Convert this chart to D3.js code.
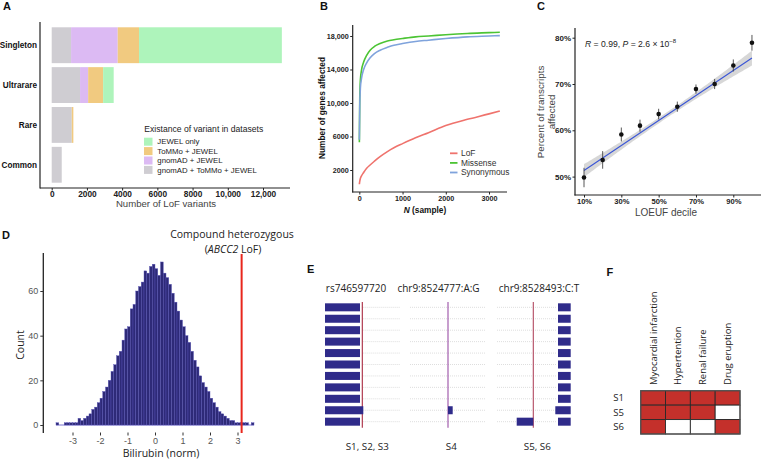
<!DOCTYPE html>
<html><head><meta charset="utf-8">
<script src="https://cdn.jsdelivr.net/npm/d3@7"></script>
<style>body{margin:0;background:#fff}svg{display:block}</style>
</head><body>
<svg id="c" width="761" height="459"></svg>
<script>
// ---------- Panel A data ----------
const aCategories = ["Singleton","Ultrarare","Rare","Common"];
const aShared3 = [1100,1610,1140,570];     // gnomAD + ToMMo + JEWEL
const aGnomad = [2650,460,0,0];            // gnomAD + JEWEL
const aTommo = [1210,850,90,0];            // ToMMo + JEWEL
const aJewelOnly = [8110,600,0,0];         // JEWEL only
const aTicks = [0,2000,4000,6000,8000,10000,12000];
const aLegend = ["JEWEL only","ToMMo + JEWEL","gnomAD + JEWEL","gnomAD + ToMMo + JEWEL"];

// ---------- Panel B data ----------
const bN = [1,10,25,50,100,170,250,350,480,650,800,1000,1300,1600,2000,2500,3000,3250];
const bLoF = [300,650,1000,1300,1700,2200,2600,3050,3600,4200,4650,5150,5850,6450,7300,8050,8700,9050];
const bMissense = [5300,10500,12800,13900,14900,15700,16300,16750,17100,17400,17550,17700,17900,18000,18150,18300,18400,18450];
const bSynonymous = [5600,9500,11800,12900,14000,14800,15400,15900,16300,16650,16900,17100,17350,17500,17700,17900,18000,18050];
const bYTicks = [2000,6000,10000,14000,18000];
const bXTicks = [0,1000,2000,3000];

// ---------- Panel C data ----------
const cDecile = [0.1,0.2,0.3,0.4,0.5,0.6,0.7,0.8,0.9,1.0];
const cPercent = [49.8,53.6,59.1,61.0,63.5,65.1,68.9,70.0,74.0,78.9];
const cErr = [2.1,1.9,1.5,1.3,1.15,1.1,1.0,1.1,1.3,1.7];
const cFitEnds = [51.3,75.6];          // fitted % at 10% and 100% decile
const cBandEnds = [1.4,0.6,1.6];       // CI half-width: left end, centre, right end
const cXTicks = [0.1,0.3,0.5,0.7,0.9];
const cYTicks = [50,60,70,80];

// ---------- Panel D data ----------
const dBinStart = -3.6, dBinWidth = 0.1;
const dCounts = [1,0,0,1,1,1,1,1,3,2,3,4,5,7,8,10,12,15,17,20,24,27,31,33,38,43,44,52,54,60,62,64,69,68,71,72,
                 70,67,73,68,66,63,59,55,51,47,44,40,37,33,29,26,22,19,17,15,12,10,8,6,5,4,3,2,2,1,1,1,1,1,0,1];
const dCase = 3.15;
const dXTicks = [-3,-2,-1,0,1,2,3];
const dYTicks = [0,20,40,60];

// ---------- Panel E data (read offsets relative to variant) ----------
const eTitles = ["rs746597720","chr9:8524777:A:G","chr9:8528493:C:T"];
const eSamples = ["S1, S2, S3","S4","S5, S6"];
const eRows = d3.range(11);
const eCol1 = eRows.map(r => r===9 ? [[-37.3,1]] : [[-37.3,-2.3]]);
const eCol2 = eRows.map(r => r===9 ? [[0,4.7]] : []);
const eCol3 = eRows.map(r => r===9 ? [[22,37.4]] : (r===10 ? [[-16.6,0],[24.7,37.4]] : [[24.7,37.4]]));

// ---------- Panel F data ----------
const fDiseases = ["Myocardial infarction","Hypertention","Renal failure","Drug eruption"];
const fSamples = ["S1","S5","S6"];
const fMatrix = [[1,1,1,1],[1,1,1,0],[1,0,0,1]];

const svg = d3.select("#c");
svg.append("rect").attr("width",761).attr("height",459).attr("fill","#fff");
const SANS = "'Liberation Sans', Arial, Helvetica, sans-serif";
const CAL = "'Open Sans', 'Noto Sans', sans-serif";

function panelLabel(t,x,y){
  svg.append("text").attr("x",x).attr("y",y).text(t)
    .attr("font-family",SANS).attr("font-weight","bold").attr("font-size",11).attr("fill","#111");
}
function line(x1,y1,x2,y2,c,w){
  return svg.append("line").attr("x1",x1).attr("y1",y1).attr("x2",x2).attr("y2",y2)
    .attr("stroke",c||"#222").attr("stroke-width",w||1);
}

// ================= Panel A =================
panelLabel("A",3,9.5);
{
  const x = d3.scaleLinear().domain([0,12000]).range([51.7,263]);
  const y = d3.scaleBand().domain(aCategories).range([25.3,184.7]).paddingInner(0.1).paddingOuter(0.05);
  const colors = ["#cfcdd2","#dcbaf3","#f1ca80","#aef4bb"];
  const series = [aShared3,aGnomad,aTommo,aJewelOnly];
  const g = svg.append("g");
  aCategories.forEach((cat,i)=>{
    let acc = 0;
    series.forEach((s,k)=>{
      const v = s[i];
      if(v>0){
        g.append("rect").attr("x",x(acc)).attr("y",y(cat)).attr("width",x(acc+v)-x(acc))
          .attr("height",y.bandwidth()).attr("fill",colors[k]);
      }
      acc += v;
    });
    g.append("text").attr("x",37).attr("y",y(cat)+y.bandwidth()/2).attr("dy","0.35em")
      .attr("text-anchor","end").attr("font-family",SANS).attr("font-weight","bold")
      .attr("font-size",8.2).attr("fill","#111").text(cat);
  });
  line(40,22,40,188.5,"#222",1.2);
  line(40,188,290,188,"#222",1.2);
  const ax = svg.append("g").attr("transform","translate(0,188)")
    .call(d3.axisBottom(x).tickValues(aTicks).tickSize(2.5).tickFormat(d=> d>=10000 ? d3.format(",")(d) : d));
  ax.select(".domain").remove();
  ax.selectAll("line").attr("stroke","#222");
  ax.selectAll("text").attr("font-family",SANS).attr("font-weight","bold").attr("font-size",8.3).attr("fill","#222").attr("dy","0.75em").attr("y",3);
  svg.append("text").attr("x",166).attr("y",207).attr("text-anchor","middle")
    .attr("font-family",SANS).attr("font-size",9.6).attr("fill","#444").text("Number of LoF variants");
  // legend
  svg.append("text").attr("x",144.3).attr("y",132).attr("font-family",SANS).attr("font-size",8.6)
    .attr("fill","#222").text("Existance of variant in datasets");
  const legCols = ["#aef4bb","#f1ca80","#dcbaf3","#cfcdd2"];
  aLegend.forEach((t,i)=>{
    const cy = 141.7 + i*9.4;
    svg.append("rect").attr("x",144).attr("y",cy-4).attr("width",8.5).attr("height",8).attr("fill",legCols[i]);
    svg.append("text").attr("x",157.3).attr("y",cy).attr("dy","0.35em").attr("font-family",SANS)
      .attr("font-size",7.8).attr("fill","#222").text(t);
  });
}

// ================= Panel B =================
panelLabel("B",320,9.5);
{
  const x = d3.scaleLinear().domain([-153,3416]).range([352.7,507]);
  const y = d3.scaleLinear().domain([-627,19313]).range([192,25]);
  const cols = {LoF:"#ef736d",Missense:"#4cc434",Synonymous:"#7fa3dc"};
  const ln = d3.line().x((d,i)=>x(bN[i])).y(d=>y(d)).curve(d3.curveMonotoneX);
  [["Missense",bMissense],["Synonymous",bSynonymous],["LoF",bLoF]].forEach(([k,arr])=>{
    svg.append("path").attr("d",ln(arr)).attr("fill","none").attr("stroke",cols[k]).attr("stroke-width",1.6);
  });
  line(352.7,25,352.7,192.5,"#222",1.2);
  line(352.2,192,507,192,"#222",1.2);
  const ay = svg.append("g").attr("transform","translate(352.7,0)")
    .call(d3.axisLeft(y).tickValues(bYTicks).tickSize(2.5).tickFormat(d=> d>=10000? d3.format(",")(d): d));
  ay.select(".domain").remove();
  ay.selectAll("line").attr("stroke","#222");
  ay.selectAll("text").attr("font-family",SANS).attr("font-weight","bold").attr("font-size",7.2).attr("fill","#222").attr("x",-4);
  const ax = svg.append("g").attr("transform","translate(0,192)")
    .call(d3.axisBottom(x).tickValues(bXTicks).tickSize(2.5).tickFormat(d=>String(d)));
  ax.select(".domain").remove();
  ax.selectAll("line").attr("stroke","#222");
  ax.selectAll("text").attr("font-family",SANS).attr("font-weight","bold").attr("font-size",7.2).attr("fill","#222").attr("y",4);
  const t = svg.append("text").attr("x",425).attr("y",213).attr("text-anchor","middle")
    .attr("font-family",SANS).attr("font-weight","bold").attr("font-size",8.3).attr("fill","#111");
  t.append("tspan").attr("font-style","italic").text("N");
  t.append("tspan").text(" (sample)");
  svg.append("text").attr("transform","translate(324.5,108) rotate(-90)").attr("text-anchor","middle")
    .attr("font-family",SANS).attr("font-weight","bold").attr("font-size",8.3).attr("fill","#111")
    .text("Number of genes affected");
  ["LoF","Missense","Synonymous"].forEach((k,i)=>{
    const cy = 153.3 + i*9.6;
    line(450,cy,457.5,cy,cols[k],1.8);
    svg.append("text").attr("x",461).attr("y",cy).attr("dy","0.35em").attr("font-family",SANS)
      .attr("font-size",8.4).attr("fill","#333").text(k);
  });
}

// ================= Panel C =================
panelLabel("C",537,9.5);
{
  const x = d3.scaleLinear().domain([0.1,0.9]).range([584,733.3]);
  const y = d3.scaleLinear().domain([50,80]).range([176.6,37.7]);
  const fit = d3.scaleLinear().domain([0.1,1.0]).range(cFitEnds);
  const halfL = d3.scaleLinear().domain([0.1,0.55]).range([cBandEnds[0],cBandEnds[1]]);
  const halfR = d3.scaleLinear().domain([0.55,1.0]).range([cBandEnds[1],cBandEnds[2]]);
  const half = xx => {
    // smooth curved band (hyperbola-like through the three widths)
    const h = xx<0.55 ? halfL(xx) : halfR(xx);
    const m = cBandEnds[1];
    return Math.sqrt(m*m + Math.max(0,h*h-m*m)*Math.abs(xx-0.55)/0.45);
  };
  const xs = d3.range(0.1,1.0001,0.01);
  svg.append("path").attr("d",d3.area().x(d=>x(d)).y0(d=>y(fit(d)-half(d))).y1(d=>y(fit(d)+half(d)))(xs))
    .attr("fill","#bdbdbd").attr("opacity",0.6);
  svg.append("path").attr("d",d3.line().x(d=>x(d)).y(d=>y(fit(d)))(xs))
    .attr("fill","none").attr("stroke","#3a55d6").attr("stroke-width",1.1);
  cDecile.forEach((d,i)=>{
    line(x(d),y(cPercent[i]-cErr[i]),x(d),y(cPercent[i]+cErr[i]),"#444",0.9);
    svg.append("circle").attr("cx",x(d)).attr("cy",y(cPercent[i])).attr("r",2.3).attr("fill","#111");
  });
  line(575,28,575,195.5,"#222",1.2);
  line(574.5,195,761,195,"#222",1.2);
  const ay = svg.append("g").attr("transform","translate(575,0)")
    .call(d3.axisLeft(y).tickValues(cYTicks).tickSize(2.5).tickFormat(d=>d+"%"));
  ay.select(".domain").remove();
  ay.selectAll("line").attr("stroke","#222");
  ay.selectAll("text").attr("font-family",SANS).attr("font-weight","bold").attr("font-size",8).attr("fill","#222").attr("x",-4);
  const ax = svg.append("g").attr("transform","translate(0,195)")
    .call(d3.axisBottom(x).tickValues(cXTicks).tickSize(2.5).tickFormat(d=>Math.round(d*100)+"%"));
  ax.select(".domain").remove();
  ax.selectAll("line").attr("stroke","#222");
  ax.selectAll("text").attr("font-family",SANS).attr("font-weight","bold").attr("font-size",7.6).attr("fill","#222").attr("y",4);
  svg.append("text").attr("x",666).attr("y",215.5).attr("text-anchor","middle")
    .attr("font-family",SANS).attr("font-size",10).attr("fill","#444").text("LOEUF decile");
  const yt = svg.append("text").attr("transform","translate(544,112) rotate(-90)").attr("text-anchor","middle")
    .attr("font-family",SANS).attr("font-size",9.8).attr("fill","#444");
  yt.append("tspan").attr("x",0).attr("dy",0).text("Percent of transcripts");
  yt.append("tspan").attr("x",0).attr("dy",11).text("affected");
  const r = svg.append("text").attr("x",585).attr("y",46.5).attr("font-family",SANS).attr("font-size",8.6).attr("fill","#222");
  r.append("tspan").attr("font-style","italic").text("R");
  r.append("tspan").text(" = 0.99, ");
  r.append("tspan").attr("font-style","italic").text("P");
  r.append("tspan").text(" = 2.6 × 10");
  r.append("tspan").attr("dy",-3.5).attr("font-size",6).text("−8");
}

// ================= Panel D =================
panelLabel("D",2,239);
{
  const x = d3.scaleLinear().domain([0,1]).range([155,182.5]);
  const y = d3.scaleLinear().domain([0,60]).range([425,291]);
  const bins = dCounts.map((c,i)=>({x0:dBinStart+i*dBinWidth,x1:dBinStart+(i+1)*dBinWidth,c}));
  line(x(dBinStart),425,x(dBinStart+dCounts.length*dBinWidth),425,"#7a74d0",1);
  svg.append("g").selectAll("rect").data(bins.filter(b=>b.c>0)).join("rect")
    .attr("x",b=>x(b.x0)).attr("width",b=>x(b.x1)-x(b.x0)).attr("y",b=>y(b.c)).attr("height",b=>y(0)-y(b.c))
    .attr("fill","#2e2a78").attr("stroke","#5b55b8").attr("stroke-width",0.4);
  line(x(dCase),254,x(dCase),433,"#e8261c",2);
  line(43.3,253,43.3,433,"#222",1.3);
  const ay = svg.append("g").attr("transform","translate(43.3,0)")
    .call(d3.axisLeft(y).tickValues(dYTicks).tickSize(3));
  ay.select(".domain").remove();
  ay.selectAll("line").attr("stroke","#333");
  ay.selectAll("text").attr("font-family",SANS).attr("font-size",9).attr("fill","#555").attr("x",-5);
  const ax = svg.append("g").attr("transform","translate(0,432.5)")
    .call(d3.axisBottom(x).tickValues(dXTicks).tickSize(3).tickFormat(d=>d<0?"-"+(-d):d));
  ax.select(".domain").remove();
  ax.selectAll("line").attr("stroke","#333");
  ax.selectAll("text").attr("font-family",SANS).attr("font-size",9).attr("fill","#555").attr("y",5);
  svg.append("text").attr("x",161).attr("y",457).attr("text-anchor","middle")
    .attr("font-family",CAL).attr("font-size",10.5).attr("fill","#222").text("Bilirubin (norm)");
  svg.append("text").attr("transform","translate(24,345) rotate(-90)").attr("text-anchor","middle")
    .attr("font-family",CAL).attr("font-size",10.5).attr("fill","#222").text("Count");
  svg.append("text").attr("x",232).attr("y",238).attr("text-anchor","middle")
    .attr("font-family",CAL).attr("font-size",10.5).attr("fill","#222").text("Compound heterozygous");
  const t2 = svg.append("text").attr("x",233).attr("y",253).attr("text-anchor","middle")
    .attr("font-family",CAL).attr("font-size",10.5).attr("fill","#222");
  t2.append("tspan").text("(");
  t2.append("tspan").attr("font-style","italic").text("ABCC2");
  t2.append("tspan").text(" LoF)");
}

// ================= Panel E =================
panelLabel("E",307,272.5);
{
  const y = d3.scaleBand().domain(eRows).range([301.6,427.4]).paddingInner(0.3).paddingOuter(0.15);
  const u = d3.scaleLinear().domain([0,1]).range([0,1]); // 1 unit offset = 1px
  const cols = [
    {c:362.3, data:eCol1, dot:[362.7,400], lc:"#a8283f", title:356},
    {c:448, data:eCol2, dot:[410,486], lc:"#9a4fa6", title:438.5},
    {c:533.3, data:eCol3, dot:[497,556], lc:"#b2475f", title:539}
  ];
  cols.forEach((col,ci)=>{
    eRows.forEach(r=>{
      const cy = y(r)+y.bandwidth()/2;
      svg.append("line").attr("x1",col.dot[0]).attr("x2",col.dot[1]).attr("y1",cy).attr("y2",cy)
        .attr("stroke","#c8c8c8").attr("stroke-width",0.6).attr("stroke-dasharray","1,1");
    });
    line(col.c,302,col.c,427.7,col.lc,1.1);
    eRows.forEach(r=>{
      col.data[r].forEach(seg=>{
        svg.append("rect").attr("x",col.c+u(seg[0])).attr("width",u(seg[1])-u(seg[0]))
          .attr("y",y(r)).attr("height",y.bandwidth()).attr("fill","#2f2b8a");
      });
    });
    svg.append("text").attr("x",col.title).attr("y",291.5).attr("text-anchor","middle")
      .attr("font-family",CAL).attr("font-size",10).attr("fill","#222").text(eTitles[ci]);
  });
  [[367.3,eSamples[0]],[451.3,eSamples[1]],[537.3,eSamples[2]]].forEach(([xx,t])=>{
    svg.append("text").attr("x",xx).attr("y",449.5).attr("text-anchor","middle")
      .attr("font-family",CAL).attr("font-size",9.8).attr("fill","#222").text(t);
  });
}

// ================= Panel F =================
panelLabel("F",606.5,276);
{
  const x = d3.scaleBand().domain(fDiseases).range([640.7,740]);
  const y = d3.scaleBand().domain(fSamples).range([390.7,434]);
  fSamples.forEach((s,i)=>{
    fDiseases.forEach((d,j)=>{
      svg.append("rect").attr("x",x(d)).attr("y",y(s)).attr("width",x.bandwidth()).attr("height",y.bandwidth())
        .attr("fill",fMatrix[i][j]?"#c4302b":"#ffffff").attr("stroke","#2a2a2a").attr("stroke-width",0.9);
    });
    svg.append("text").attr("x",624).attr("y",y(s)+y.bandwidth()/2).attr("dy","0.35em").attr("text-anchor","end")
      .attr("font-family",CAL).attr("font-size",9.5).attr("fill","#222").text(s);
  });
  svg.append("rect").attr("x",640.7).attr("y",390.7).attr("width",99.3).attr("height",43.3)
    .attr("fill","none").attr("stroke","#555").attr("stroke-width",1.2);
  fDiseases.forEach(d=>{
    svg.append("text").attr("transform",`translate(${x(d)+x.bandwidth()/2+3.5},385) rotate(-90)`)
      .attr("font-family",CAL).attr("font-size",9.5).attr("fill","#222").text(d);
  });
}
</script>
</body></html>
